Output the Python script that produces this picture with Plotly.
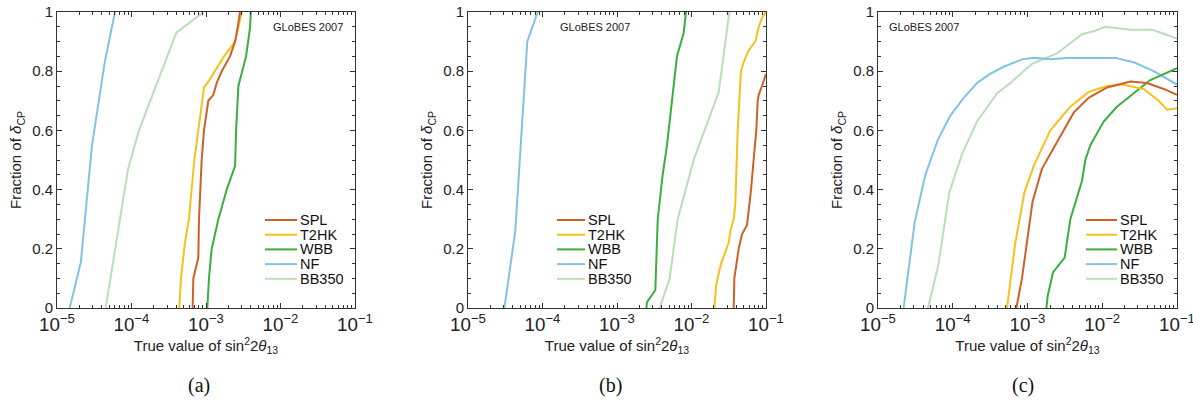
import plotly.graph_objects as go

W, H = 1193, 400

SERIES = ["SPL", "T2HK", "WBB", "NF", "BB350"]
COLORS = {"SPL": "#cd6128", "T2HK": "#f5c21b", "WBB": "#3cae3c", "NF": "#80c4e4", "BB350": "#b9dfb9"}

# ---------- panel (a) ----------
SPL_A_X = [6.62e-4, 6.76e-4, 7.89e-4, 8.05e-4, 8.75e-4, 9.40e-4, 1.074e-3, 1.256e-3, 1.39e-3, 1.626e-3, 2.10e-3, 2.455e-3, 2.67e-3, 2.86e-3]
SPL_A_Y = [0, 0.1, 0.17, 0.3, 0.5, 0.6, 0.7, 0.72, 0.76, 0.8, 0.85, 0.9, 0.95, 1.0]
T2HK_A_X = [4.37e-4, 4.61e-4, 4.85e-4, 5.21e-4, 5.90e-4, 6.41e-4, 6.97e-4, 7.89e-4, 9.40e-4, 1.109e-3, 1.321e-3, 1.746e-3, 2.455e-3, 2.72e-3, 3.02e-3]
T2HK_A_Y = [0, 0.1, 0.15, 0.22, 0.3, 0.4, 0.5, 0.6, 0.745, 0.77, 0.8, 0.85, 0.9, 0.95, 1.0]
WBB_A_X = [1.042e-3, 1.096e-3, 1.191e-3, 1.466e-3, 1.897e-3, 2.455e-3, 2.535e-3, 2.72e-3, 3.45e-3, 3.91e-3, 3.99e-3]
WBB_A_Y = [0, 0.1, 0.2, 0.3, 0.4, 0.48, 0.6, 0.75, 0.85, 0.95, 1.0]
NF_A_X = [1.48e-5, 2.09e-5, 2.95e-5, 4.37e-5, 6.0e-5]
NF_A_Y = [0, 0.155, 0.55, 0.83, 1.0]
BB350_A_X = [4.5e-5, 9.0e-5, 1.26e-4, 4.0e-4, 9.3e-4]
BB350_A_Y = [0, 0.47, 0.6, 0.93, 1.0]

# ---------- panel (b) ----------
SPL_B_X = [3.68e-2, 3.76e-2, 4.30e-2, 4.77e-2, 5.56e-2, 6.04e-2, 6.30e-2, 6.82e-2, 7.41e-2, 7.73e-2, 7.98e-2, 8.83e-2, 0.1]
SPL_B_Y = [0, 0.1, 0.2, 0.25, 0.28, 0.35, 0.4, 0.5, 0.6, 0.7, 0.72, 0.75, 0.79]
T2HK_B_X = [2.02e-2, 2.15e-2, 2.49e-2, 3.16e-2, 3.32e-2, 3.68e-2, 3.87e-2, 4.17e-2, 4.61e-2, 5.01e-2, 5.85e-2, 7.19e-2, 7.98e-2, 8.83e-2, 0.1]
T2HK_B_Y = [0, 0.08, 0.15, 0.22, 0.26, 0.3, 0.35, 0.6, 0.8, 0.83, 0.87, 0.9, 0.95, 0.98, 1.0]
WBB_B_X = [2.48e-3, 2.53e-3, 3.27e-3, 3.37e-3, 3.52e-3, 4.10e-3, 4.69e-3, 5.47e-3, 6.38e-3, 7.85e-3, 8.43e-3]
WBB_B_Y = [0, 0.02, 0.06, 0.2, 0.3, 0.45, 0.55, 0.7, 0.85, 0.93, 1.0]
NF_B_X = [3.08e-5, 4.31e-5, 6.25e-5, 8.61e-5]
NF_B_Y = [0, 0.26, 0.9, 1.0]
BB350_B_X = [3.74e-3, 5.09e-3, 6.52e-3, 1.069e-2, 2.32e-2, 3.22e-2]
BB350_B_Y = [0, 0.1, 0.3, 0.5, 0.73, 1.0]

# ---------- panel (c) ----------
SPL_C_X = [7.10e-4, 8.43e-4, 1.17e-3, 1.56e-3, 2.75e-3, 4.15e-3, 6.58e-3, 1.16e-2, 2.38e-2, 3.97e-2, 6.64e-2, 0.1]
SPL_C_Y = [0, 0.1, 0.36, 0.47, 0.58, 0.66, 0.71, 0.745, 0.765, 0.76, 0.74, 0.72]
T2HK_C_X = [5.32e-4, 6.87e-4, 9.08e-4, 1.21e-3, 2.02e-3, 3.74e-3, 6.58e-3, 1.16e-2, 1.84e-2, 3.58e-2, 5.69e-2, 7.35e-2, 0.1]
T2HK_C_Y = [0, 0.22, 0.39, 0.48, 0.6, 0.68, 0.73, 0.75, 0.755, 0.74, 0.70, 0.67, 0.675]
WBB_C_X = [1.79e-3, 1.86e-3, 2.19e-3, 3.14e-3, 3.74e-3, 5.36e-3, 5.94e-3, 6.93e-3, 1.045e-2, 1.57e-2, 2.77e-2, 4.40e-2, 6.64e-2, 0.1]
WBB_C_Y = [0, 0.04, 0.12, 0.17, 0.3, 0.43, 0.5, 0.55, 0.63, 0.68, 0.73, 0.77, 0.79, 0.81]
NF_C_X = [2.20e-5, 3.10e-5, 4.30e-5, 6.36e-5, 9.29e-5, 1.40e-4, 2.11e-4, 3.12e-4, 4.80e-4, 8.43e-4, 1.21e-3, 2.02e-3, 3.37e-3, 1.50e-2, 2.63e-2, 4.88e-2, 0.1]
NF_C_Y = [0, 0.29, 0.45, 0.57, 0.65, 0.71, 0.76, 0.79, 0.815, 0.84, 0.845, 0.84, 0.845, 0.845, 0.83, 0.80, 0.755]
BB350_C_X = [4.67e-5, 6.36e-5, 9.0e-5, 1.33e-4, 2.11e-4, 3.91e-4, 5.89e-4, 1.15e-3, 2.48e-3, 5.36e-3, 7.67e-3, 1.10e-2, 2.38e-2, 4.63e-2, 6.98e-2, 0.1]
BB350_C_Y = [0, 0.14, 0.39, 0.52, 0.63, 0.725, 0.76, 0.825, 0.86, 0.925, 0.935, 0.95, 0.94, 0.94, 0.925, 0.91]

PANEL_LABELS = ["(a)", "(b)", "(c)"]
STAMP = "GLoBES 2007"
X_TITLE = "True value of sin<sup>2</sup>2<i>θ</i><sub>13</sub>"
Y_TITLE = "Fraction of <i>δ</i><sub>CP</sub>"

PANELS = [
    {"SPL": (SPL_A_X, SPL_A_Y), "T2HK": (T2HK_A_X, T2HK_A_Y), "WBB": (WBB_A_X, WBB_A_Y), "NF": (NF_A_X, NF_A_Y), "BB350": (BB350_A_X, BB350_A_Y)},
    {"SPL": (SPL_B_X, SPL_B_Y), "T2HK": (T2HK_B_X, T2HK_B_Y), "WBB": (WBB_B_X, WBB_B_Y), "NF": (NF_B_X, NF_B_Y), "BB350": (BB350_B_X, BB350_B_Y)},
    {"SPL": (SPL_C_X, SPL_C_Y), "T2HK": (T2HK_C_X, T2HK_C_Y), "WBB": (WBB_C_X, WBB_C_Y), "NF": (NF_C_X, NF_C_Y), "BB350": (BB350_C_X, BB350_C_Y)},
]

# layout geometry (pixels)
PLOT_X = [(57, 355), (468, 766), (878, 1177)]
PLOT_Y = (12, 308)
LEG_LINE = [(265, 297), (557, 585), (1086, 1117)]
LEG_ROW0, LEG_STEP = 220, 14.7
STAMP_X = [308, 595, 924]
STAMP_Y = 27
LABEL_X = [199, 610, 1023]
LABEL_Y = 385

SANS = "Liberation Sans, Arial, sans-serif"
SERIF = "Liberation Serif, Times New Roman, serif"
FRAME = "#333333"

fig = go.Figure()
shapes, annotations = [], []

for i, panel in enumerate(PANELS):
    sfx = "" if i == 0 else str(i + 1)
    xa, ya = "x" + sfx, "y" + sfx
    for name in ["BB350", "NF", "WBB", "T2HK", "SPL"]:
        xs, ys = panel[name]
        fig.add_trace(go.Scatter(x=xs, y=ys, mode="lines", name=name, xaxis=xa, yaxis=ya,
                                 line=dict(color=COLORS[name], width=2), showlegend=False))
    x0, x1 = PLOT_X[i]
    fig.layout["xaxis" + sfx] = dict(
        domain=[x0 / W, x1 / W], anchor=ya, type="log", range=[-5, -1], dtick=1,
        exponentformat="power", showexponent="all", automargin=False, ticklabeloverflow="allow",
        showline=True, mirror="allticks", linecolor=FRAME, linewidth=1,
        ticks="inside", ticklen=5, tickcolor=FRAME, showgrid=False, zeroline=False,
        minor=dict(ticks="inside", ticklen=3, tickcolor=FRAME, showgrid=False),
        tickfont=dict(family=SANS, size=15, color="#222"),
        title=dict(text=X_TITLE, font=dict(family=SANS, size=15, color="#222"), standoff=4),
    )
    fig.layout["yaxis" + sfx] = dict(
        domain=[1 - PLOT_Y[1] / H, 1 - PLOT_Y[0] / H], anchor=xa, range=[0, 1], dtick=0.2,
        automargin=False, ticklabeloverflow="allow",
        showline=True, mirror="allticks", linecolor=FRAME, linewidth=1,
        ticks="inside", ticklen=5, tickcolor=FRAME, showgrid=False, zeroline=False,
        minor=dict(ticks="inside", ticklen=3, dtick=0.05, tickcolor=FRAME, showgrid=False),
        tickfont=dict(family=SANS, size=15, color="#222"),
        title=dict(text=Y_TITLE, font=dict(family=SANS, size=15, color="#222"), standoff=6),
    )
    lx0, lx1 = LEG_LINE[i]
    for k, name in enumerate(SERIES):
        yy = 1 - (LEG_ROW0 + k * LEG_STEP) / H
        shapes.append(dict(type="line", xref="paper", yref="paper", x0=lx0 / W, x1=lx1 / W, y0=yy, y1=yy,
                           line=dict(color=COLORS[name], width=2)))
        annotations.append(dict(xref="paper", yref="paper", x=(lx1 + 1) / W, y=yy, text=name, showarrow=False,
                                xanchor="left", yanchor="middle", height=14, valign="middle",
                                font=dict(family=SANS, size=14.5, color="#111")))
    annotations.append(dict(xref="paper", yref="paper", x=STAMP_X[i] / W, y=1 - STAMP_Y / H, text=STAMP,
                            showarrow=False, xanchor="center", yanchor="middle",
                            font=dict(family=SANS, size=11, color="#222")))
    annotations.append(dict(xref="paper", yref="paper", x=LABEL_X[i] / W, y=1 - LABEL_Y / H, text=PANEL_LABELS[i],
                            showarrow=False, xanchor="center", yanchor="middle",
                            font=dict(family=SERIF, size=20, color="#111")))

fig.update_layout(width=W, height=H, margin=dict(l=0, r=0, t=0, b=0, autoexpand=False),
                  paper_bgcolor="white", plot_bgcolor="white", showlegend=False,
                  shapes=shapes, annotations=annotations)

fig.write_html("out.html", config={"displayModeBar": False},
               post_script="document.body.style.margin='0';document.body.style.overflow='hidden';")
